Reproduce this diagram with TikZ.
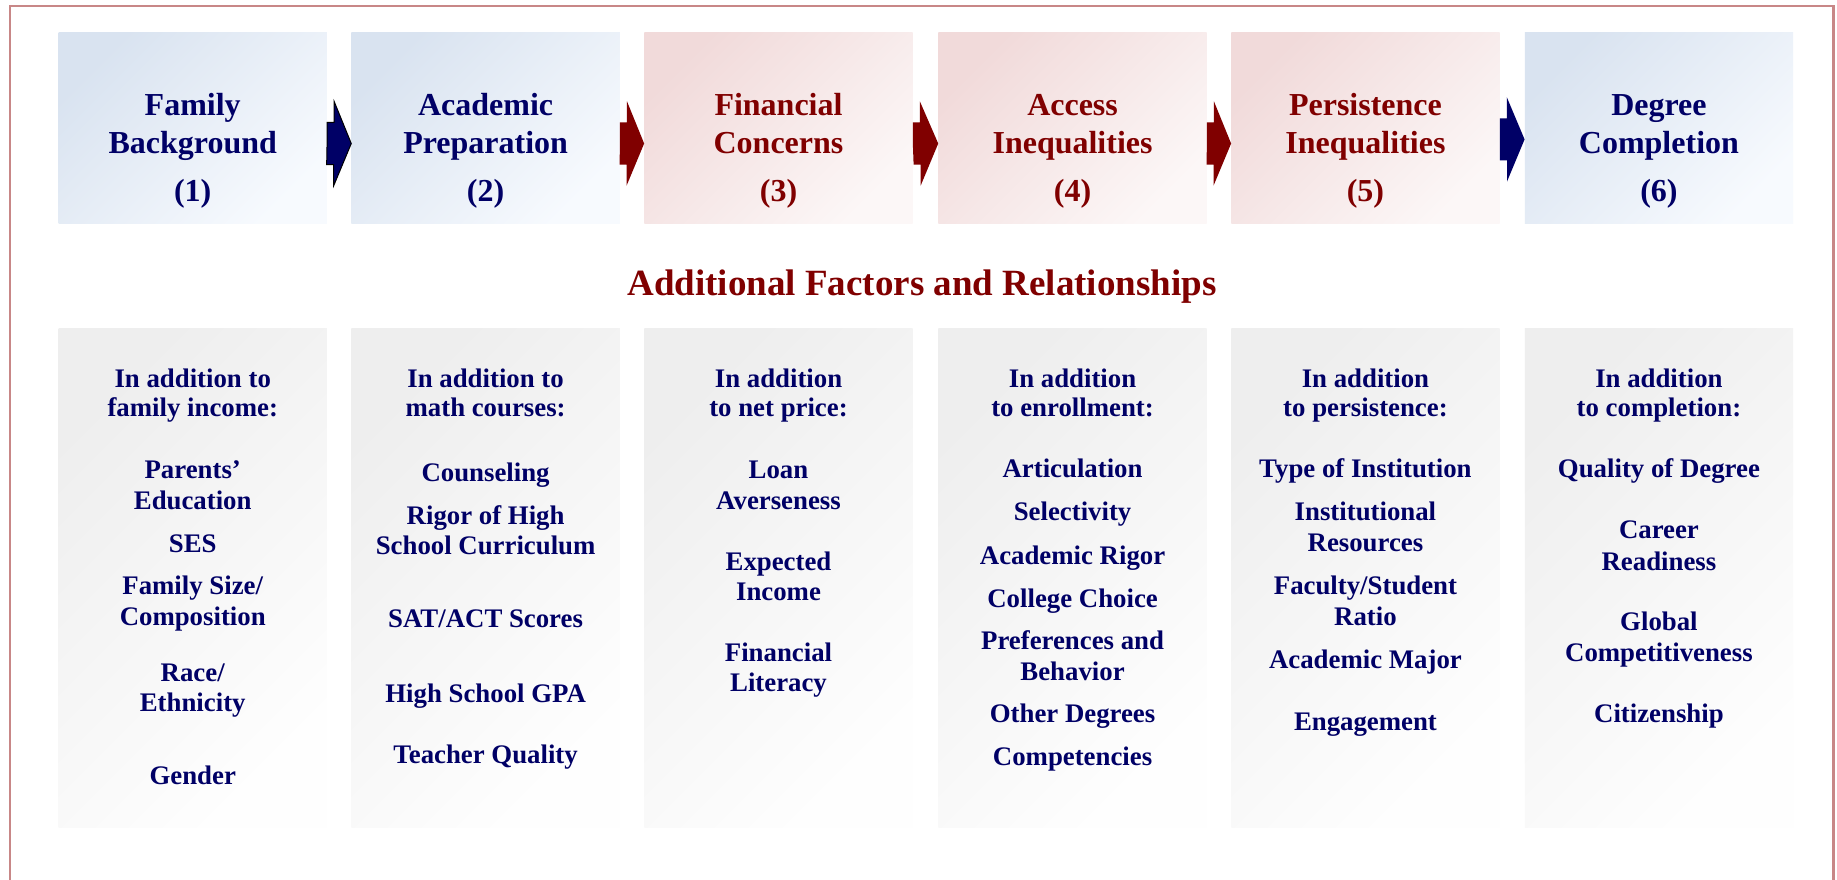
\documentclass[tikz,border=0pt]{standalone}
\usepackage{fontspec}
\setmainfont{Liberation Serif}
\usetikzlibrary{calc}
\definecolor{navy}{RGB}{0,0,102}
\definecolor{dred}{RGB}{128,0,0}
\definecolor{framec}{RGB}{200,135,135}
\definecolor{bluA}{RGB}{217,227,240}
\definecolor{bluB}{RGB}{247,250,254}
\definecolor{pnkA}{RGB}{241,218,218}
\definecolor{pnkB}{RGB}{252,247,247}
\definecolor{gryA}{RGB}{238,238,238}
\definecolor{gryB}{RGB}{254,254,254}
\tikzset{
  topbox/.style={inner sep=0pt, minimum width=268.3pt, minimum height=191pt},
  topblue/.style={topbox, top color=bluA, bottom color=bluB, shading angle=45},
  topred/.style={topbox, top color=pnkA, bottom color=pnkB, shading angle=45},
  botbox/.style={inner sep=0pt, minimum width=268.3pt, minimum height=499.1pt, top color=gryA, bottom color=gryB, shading angle=45},
  hl/.style={inner sep=0pt, text height=21pt, text depth=0pt, font=\fontsize{32}{37}\selectfont\bfseries},
  hlb/.style={hl, text=navy},
  hlr/.style={hl, text=dred},
  bt/.style={inner sep=0pt, text height=17.8pt, text depth=0pt, text=navy, font=\fontsize{26.8}{31}\selectfont\bfseries},
  ttl/.style={inner sep=0pt, text height=24.4pt, text depth=0pt, text=dred, font=\fontsize{37}{42}\selectfont\bfseries},
  arrN/.style={fill=navy},
  arrR/.style={fill=dred},
}
\newcommand\blockarr[4]{% style, from, to, center y
  \path[#1] (#2.east |- 0,#4) -- ++(0,-18) -- ++(6,0) -- ++(0,-18) -- (#3.west |- 0,#4) -- ++(-15,36) -- ++(0,-18) -- ++(-6,0) -- cycle;}
\begin{document}
\begin{tikzpicture}[x=1.1716pt,y=-1.1716pt]
\useasboundingbox (0,0) rectangle (1568,751);
\fill[white] (0,0) rectangle (1568,751);
% frame
\draw[framec, line width=2.2pt] (8.2,760) -- (8.2,5) -- (1565,5) -- (1565,760);
% top boxes
\node[topblue] (b1) at (164.5,109.5) {};
\node[topblue] (b2) at (414.5,109.5) {};
\node[topred]  (b3) at (664.5,109.5) {};
\node[topred]  (b4) at (915.5,109.5) {};
\node[topred]  (b5) at (1165.5,109.5) {};
\node[topblue] (b6) at (1416,109.5) {};
% arrows
\blockarr{arrN, draw=black, line width=1pt}{b1}{b2}{122.5}
\blockarr{arrR}{b2}{b3}{122.5}
\blockarr{arrR}{b3}{b4}{122.5}
\blockarr{arrR}{b4}{b5}{122.5}
\blockarr{arrN}{b5}{b6}{119}
% top labels
\node[hlb] (t1a) at (164.5,90) {Family};
\node[hlb] (t1b) at (164.5,122) {Background};
\node[hlb] (t1c) at (164.5,163) {(1)};
\node[hlb] (t2a) at (414.5,90) {Academic};
\node[hlb] (t2b) at (414.5,122) {Preparation};
\node[hlb] (t2c) at (414.5,163) {(2)};
\node[hlr] (t3a) at (664.5,90) {Financial};
\node[hlr] (t3b) at (664.5,122) {Concerns};
\node[hlr] (t3c) at (664.5,163) {(3)};
\node[hlr] (t4a) at (915.5,90) {Access};
\node[hlr] (t4b) at (915.5,122) {Inequalities};
\node[hlr] (t4c) at (915.5,163) {(4)};
\node[hlr] (t5a) at (1165.5,90) {Persistence};
\node[hlr] (t5b) at (1165.5,122) {Inequalities};
\node[hlr] (t5c) at (1165.5,163) {(5)};
\node[hlb] (t6a) at (1416,90) {Degree};
\node[hlb] (t6b) at (1416,122) {Completion};
\node[hlb] (t6c) at (1416,163) {(6)};
% title
\node[ttl] (title) at (787,242) {Additional Factors and Relationships};
% bottom boxes
\node[botbox] (c1) at (164.5,493) {};
\node[botbox] (c2) at (414.5,493) {};
\node[botbox] (c3) at (664.5,493) {};
\node[botbox] (c4) at (915.5,493) {};
\node[botbox] (c5) at (1165.5,493) {};
\node[botbox] (c6) at (1416,493) {};
% column texts
\foreach \ty/\tx [count=\i] in {323/{In addition to},348/{family income:},401/{Parents’},427/{Education},464/{SES},500/{Family Size/},526/{Composition},574/{Race/},600/{Ethnicity},662/{Gender}}
  \node[bt] (c1t\i) at (164.5,\ty) {\tx};
\foreach \ty/\tx [count=\i] in {323/{In addition to},348/{math courses:},403/{Counseling},440/{Rigor of High},466/{School Curriculum},528/{SAT/ACT Scores},592/{High School GPA},644/{Teacher Quality}}
  \node[bt] (c2t\i) at (414.5,\ty) {\tx};
\foreach \ty/\tx [count=\i] in {323/{In addition},348/{to net price:},401/{Loan},427/{Averseness},479/{Expected},505/{Income},557/{Financial},583/{Literacy}}
  \node[bt] (c3t\i) at (664.5,\ty) {\tx};
\foreach \ty/\tx [count=\i] in {323/{In addition},348/{to enrollment:},400/{Articulation},437/{Selectivity},474/{Academic Rigor},511/{College Choice},547/{Preferences and},573/{Behavior},609/{Other Degrees},646/{Competencies}}
  \node[bt] (c4t\i) at (915.5,\ty) {\tx};
\foreach \ty/\tx [count=\i] in {323/{In addition},348/{to persistence:},400/{Type of Institution},437/{Institutional},463/{Resources},500/{Faculty/Student},526/{Ratio},563/{Academic Major},616/{Engagement}}
  \node[bt] (c5t\i) at (1165.5,\ty) {\tx};
\foreach \ty/\tx [count=\i] in {323/{In addition},348/{to completion:},400/{Quality of Degree},452/{Career},479/{Readiness},531/{Global},557/{Competitiveness},609/{Citizenship}}
  \node[bt] (c6t\i) at (1416,\ty) {\tx};
\end{tikzpicture}
\end{document}
